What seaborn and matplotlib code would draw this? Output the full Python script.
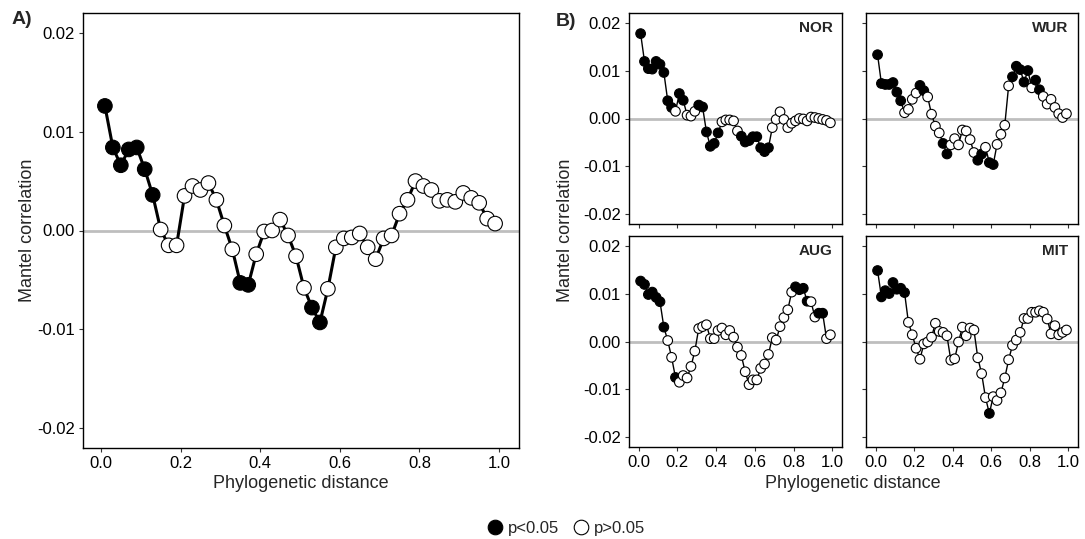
import numpy as np
import pandas as pd
import matplotlib
matplotlib.use("Agg")
import matplotlib.pyplot as plt
from matplotlib.lines import Line2D
import seaborn as sns

# ---------------- data ----------------
dist = [0.01, 0.03, 0.05, 0.07, 0.09, 0.11, 0.13, 0.15, 0.17, 0.19,
        0.21, 0.23, 0.25, 0.27, 0.29, 0.31, 0.33, 0.35, 0.37, 0.39,
        0.41, 0.43, 0.45, 0.47, 0.49, 0.51, 0.53, 0.55, 0.57, 0.59,
        0.61, 0.63, 0.65, 0.67, 0.69, 0.71, 0.73, 0.75, 0.77, 0.79,
        0.81, 0.83, 0.85, 0.87, 0.89, 0.91, 0.93, 0.95, 0.97, 0.99]

all_r = [0.0126, 0.0084, 0.0066, 0.0082, 0.0084, 0.0062, 0.0036, 0.0001, -0.0015, -0.0015,
         0.0035, 0.0045, 0.0041, 0.0048, 0.0031, 0.0005, -0.0019, -0.0053, -0.0055, -0.0024,
         -0.0001, 0.0000, 0.0011, -0.0005, -0.0026, -0.0058, -0.0078, -0.0093, -0.0059, -0.0017,
         -0.0008, -0.0007, -0.0003, -0.0017, -0.0029, -0.0008, -0.0005, 0.0017, 0.0031, 0.0050,
         0.0045, 0.0041, 0.0030, 0.0031, 0.0029, 0.0038, 0.0033, 0.0028, 0.0012, 0.0007]
all_sig = [1, 1, 1, 1, 1, 1, 1, 0, 0, 0,
           0, 0, 0, 0, 0, 0, 0, 1, 1, 0,
           0, 0, 0, 0, 0, 0, 1, 1, 0, 0,
           0, 0, 0, 0, 0, 0, 0, 0, 0, 0,
           0, 0, 0, 0, 0, 0, 0, 0, 0, 0]

nor_r = [0.0177, 0.0119, 0.0104, 0.0103, 0.0119, 0.0113, 0.0096, 0.0037, 0.0023, 0.0015,
         0.0052, 0.0038, 0.0007, 0.0005, 0.0015, 0.0028, 0.0024, -0.0028, -0.0058, -0.0052,
         -0.0030, -0.0007, -0.0003, -0.0003, -0.0005, -0.0026, -0.0037, -0.0049, -0.0046, -0.0038,
         -0.0038, -0.0061, -0.0069, -0.0061, -0.0019, -0.0002, 0.0014, -0.0002, -0.0019, -0.0010,
         -0.0005, 0.0000, -0.0001, -0.0005, 0.0003, 0.0002, 0.0000, -0.0002, -0.0004, -0.0009]
nor_sig = [1, 1, 1, 1, 1, 1, 1, 1, 1, 0,
           1, 1, 0, 0, 0, 1, 1, 1, 1, 1,
           1, 0, 0, 0, 0, 0, 1, 1, 1, 1,
           1, 1, 1, 1, 0, 0, 0, 0, 0, 0,
           0, 0, 0, 0, 0, 0, 0, 0, 0, 0]

wur_r = [0.0133, 0.0073, 0.0071, 0.0071, 0.0075, 0.0055, 0.0037, 0.0012, 0.0019, 0.0040,
         0.0053, 0.0069, 0.0058, 0.0045, 0.0009, -0.0016, -0.0030, -0.0052, -0.0074, -0.0055,
         -0.0042, -0.0055, -0.0024, -0.0026, -0.0044, -0.0071, -0.0087, -0.0074, -0.0060, -0.0092,
         -0.0096, -0.0054, -0.0033, -0.0014, 0.0068, 0.0087, 0.0109, 0.0102, 0.0076, 0.0100,
         0.0064, 0.0080, 0.0060, 0.0046, 0.0030, 0.0040, 0.0023, 0.0010, 0.0002, 0.0010]
wur_sig = [1, 1, 1, 1, 1, 1, 1, 0, 0, 0,
           0, 1, 1, 0, 0, 0, 0, 1, 1, 0,
           0, 0, 0, 0, 0, 0, 1, 1, 0, 1,
           1, 0, 0, 0, 0, 1, 1, 1, 1, 1,
           0, 1, 1, 0, 0, 0, 0, 0, 0, 0]

aug_r = [0.0126, 0.0119, 0.0098, 0.0103, 0.0092, 0.0083, 0.0030, 0.0002, -0.0033, -0.0075,
         -0.0085, -0.0071, -0.0076, -0.0052, -0.0020, 0.0027, 0.0031, 0.0035, 0.0006, 0.0006,
         0.0023, 0.0028, 0.0014, 0.0023, 0.0009, -0.0012, -0.0029, -0.0063, -0.0090, -0.0080,
         -0.0080, -0.0056, -0.0047, -0.0027, 0.0008, 0.0003, 0.0031, 0.0050, 0.0066, 0.0103,
         0.0114, 0.0108, 0.0111, 0.0084, 0.0083, 0.0051, 0.0059, 0.0059, 0.0006, 0.0014]
aug_sig = [1, 1, 1, 1, 1, 1, 1, 0, 0, 1,
           0, 0, 0, 0, 0, 0, 0, 0, 0, 0,
           0, 0, 0, 0, 0, 0, 0, 0, 0, 0,
           0, 0, 0, 0, 0, 0, 0, 0, 0, 0,
           1, 1, 1, 1, 0, 0, 1, 1, 0, 0]

mit_r = [0.0148, 0.0093, 0.0106, 0.0100, 0.0123, 0.0109, 0.0111, 0.0102, 0.0040, 0.0014,
         -0.0014, -0.0037, -0.0005, -0.0001, 0.0009, 0.0038, 0.0021, 0.0019, 0.0012, -0.0039,
         -0.0036, -0.0001, 0.0030, 0.0012, 0.0028, 0.0024, -0.0034, -0.0067, -0.0117, -0.0150,
         -0.0115, -0.0123, -0.0107, -0.0076, -0.0038, -0.0008, 0.0003, 0.0019, 0.0048, 0.0048,
         0.0061, 0.0061, 0.0064, 0.0061, 0.0047, 0.0016, 0.0033, 0.0014, 0.0019, 0.0024]
mit_sig = [1, 1, 1, 1, 1, 1, 1, 1, 0, 0,
           0, 0, 0, 0, 0, 0, 0, 0, 0, 0,
           0, 0, 0, 0, 0, 0, 0, 0, 0, 1,
           0, 0, 0, 0, 0, 0, 0, 0, 0, 0,
           0, 0, 0, 0, 0, 0, 0, 0, 0, 0]

sites = ["NOR", "WUR", "AUG", "MIT"]
site_r = [nor_r, wur_r, aug_r, mit_r]
site_sig = [nor_sig, wur_sig, aug_sig, mit_sig]

xticks = [0.0, 0.2, 0.4, 0.6, 0.8, 1.0]
xtick_labels = ["0.0", "0.2", "0.4", "0.6", "0.8", "1.0"]
yticks = [-0.02, -0.01, 0.0, 0.01, 0.02]
ytick_labels = ["-0.02", "-0.01", "0.00", "0.01", "0.02"]
sig_labels = ["p>0.05", "p<0.05"]

# ---------------- style ----------------
sns.set_style("ticks")
plt.rcParams['font.family'] = ['Liberation Sans', 'DejaVu Sans']
plt.rcParams['axes.unicode_minus'] = False

W, H = 1085, 539
fig = plt.figure(figsize=(W / 100, H / 100), dpi=100)


def px_axes(left, top, right, bottom):
    return fig.add_axes([left / W, 1 - bottom / H, (right - left) / W, (bottom - top) / H])


palette = {"p<0.05": "black", "p>0.05": "white"}


def draw(ax, r, sig, s, lw, hlw):
    df = pd.DataFrame({"dist": dist, "r": r,
                       "sig": [sig_labels[v] for v in sig]})
    ax.axhline(0, color="#BEBEBE", lw=hlw, zorder=1)
    sns.lineplot(data=df, x="dist", y="r", color="black", lw=lw, sort=False,
                 ax=ax, zorder=2, legend=False)
    sns.scatterplot(data=df, x="dist", y="r", hue="sig", palette=palette,
                    edgecolor="black", linewidth=0.8, s=s, ax=ax, zorder=3,
                    legend=False)
    ax.set_xlim(-0.045, 1.05)
    ax.set_ylim(-0.022, 0.022)
    ax.set_xticks(xticks)
    ax.set_yticks(yticks)
    ax.set_xlabel("")
    ax.set_ylabel("")
    for sp in ax.spines.values():
        sp.set_visible(True)
        sp.set_linewidth(1.0)
        sp.set_color("black")
    ax.tick_params(axis="both", length=3, width=0.8, color="#333333",
                   labelsize=12, labelcolor="black", pad=3)


# Panel A
axA = px_axes(83, 13, 519, 448)
draw(axA, all_r, all_sig, s=110, lw=2.2, hlw=2.0)
axA.set_xticklabels(xtick_labels)
axA.set_yticklabels(ytick_labels)

# Panel B
boxes = [(629, 13, 842, 224), (866, 13, 1078, 224),
         (629, 236, 842, 447), (866, 236, 1078, 447)]
for i, (name, r, sig, box) in enumerate(zip(sites, site_r, site_sig, boxes)):
    ax = px_axes(*box)
    draw(ax, r, sig, s=48, lw=1.0, hlw=2.0)
    ax.set_xlim(-0.05, 1.05)
    if i in (2, 3):
        ax.set_xticklabels(xtick_labels)
    else:
        ax.set_xticklabels([])
    if i in (0, 2):
        ax.set_yticklabels(ytick_labels)
    else:
        ax.set_yticklabels([])
    ax.text(0.955, 0.93, name, transform=ax.transAxes, ha="right", va="center",
            fontsize=11, fontweight="bold")

# labels
fig.text(12 / W, 1 - 20 / H, "A)", fontsize=14, fontweight="bold", ha="left", va="center")
fig.text(556 / W, 1 - 21 / H, "B)", fontsize=14, fontweight="bold", ha="left", va="center")
fig.text(28 / W, 1 - 230 / H, "Mantel correlation", rotation=90, fontsize=13,
         ha="center", va="center")
fig.text(566 / W, 1 - 230 / H, "Mantel correlation", rotation=90, fontsize=13,
         ha="center", va="center")
fig.text(301 / W, 1 - 483 / H, "Phylogenetic distance", fontsize=13, ha="center", va="center")
fig.text(853 / W, 1 - 483 / H, "Phylogenetic distance", fontsize=13, ha="center", va="center")

# legend
handles = [Line2D([], [], marker="o", ls="", markersize=10.5, markerfacecolor="black",
                  markeredgecolor="black", markeredgewidth=0.8),
           Line2D([], [], marker="o", ls="", markersize=10.5, markerfacecolor="white",
                  markeredgecolor="black", markeredgewidth=0.8)]
fig.legend(handles, ["p<0.05", "p>0.05"], loc="center", ncol=2, frameon=False,
           bbox_to_anchor=(566 / W, 1 - 528 / H), fontsize=12, handletextpad=0.3,
           columnspacing=0.8, handlelength=1.0)

fig.savefig("out.png", dpi=100, facecolor="white")
